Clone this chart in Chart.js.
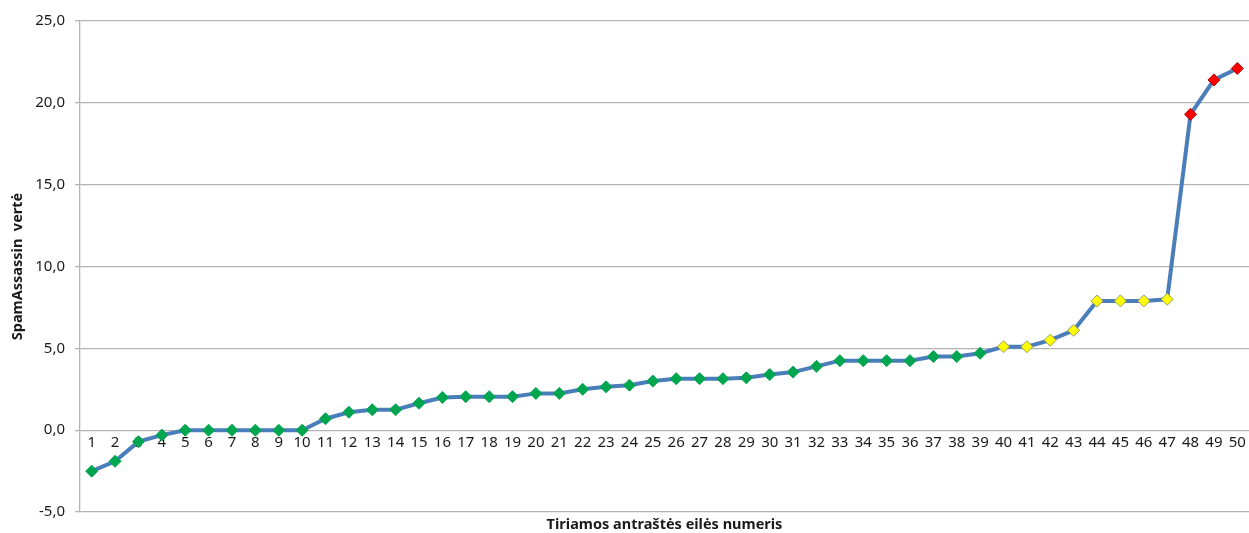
<!DOCTYPE html>
<html lang="lt">
<head>
    <meta charset="utf-8" />
    <title>SpamAssassin vertė</title>
    <style>
        html, body { margin: 0; padding: 0; background: #fff; }
        #wrap { width: 1249px; height: 533px; }
    </style>
</head>
<body>
    <div id="wrap"><canvas id="spamChart"></canvas></div>

    <script src="https://cdn.jsdelivr.net/npm/chart.js"></script>
    <script>
        // antraščių eilės numeriai
        const headerNumbers = ['1', '2', '3', '4', '5', '6', '7', '8', '9', '10',
            '11', '12', '13', '14', '15', '16', '17', '18', '19', '20',
            '21', '22', '23', '24', '25', '26', '27', '28', '29', '30',
            '31', '32', '33', '34', '35', '36', '37', '38', '39', '40',
            '41', '42', '43', '44', '45', '46', '47', '48', '49', '50'];

        // SpamAssassin įverčiai (nuskaityti nuo paveikslo)
        const spamScores = [-2.5, -1.9, -0.7, -0.3, 0.0, 0.0, 0.0, 0.0, 0.0, 0.0,
            0.7, 1.1, 1.25, 1.25, 1.65, 2.0, 2.05, 2.05, 2.05, 2.25,
            2.25, 2.5, 2.65, 2.75, 3.0, 3.15, 3.15, 3.15, 3.2, 3.4,
            3.55, 3.9, 4.25, 4.25, 4.25, 4.25, 4.5, 4.5, 4.7, 5.1,
            5.1, 5.5, 6.1, 7.9, 7.9, 7.9, 8.0, 19.3, 21.4, 22.1];

        const yTickValues = [-5, 0, 5, 10, 15, 20, 25];

        const suspectLimit = 5;   // nuo čia geltoni
        const spamLimit = 10;     // nuo čia raudoni

        const gridColor = '#b3b3b3';
        const textColor = '#1a1a1a';

        function markerFill(ctx) {
            const v = ctx.raw;
            if (v >= spamLimit) return '#ff0000';
            if (v >= suspectLimit) return '#ffff00';
            return '#00a550';
        }
        function markerBorder(ctx) {
            const v = ctx.raw;
            if (v >= spamLimit) return '#b00000';
            if (v >= suspectLimit) return '#9a9a60';
            return '#00a550';
        }

        // nenorim, kad etikečių pločiai stumdytų braižymo sritį
        function noPadding(scale) {
            scale.paddingLeft = 0;
            scale.paddingRight = 0;
            scale.paddingTop = 0;
            scale.paddingBottom = 0;
        }

        const ctx = document.getElementById('spamChart').getContext('2d');
        new Chart(ctx, {
            type: 'line',
            data: {
                labels: headerNumbers,
                datasets: [{
                    label: 'SpamAssassin vertė',
                    data: spamScores,
                    xAxisID: 'x',
                    yAxisID: 'y',
                    borderColor: '#4a7ebb',
                    borderWidth: 4,
                    tension: 0,
                    clip: false,
                    pointStyle: 'rectRot',
                    pointRadius: 6,
                    pointHoverRadius: 6,
                    pointBorderWidth: 1,
                    pointBackgroundColor: markerFill,
                    pointBorderColor: markerBorder
                }]
            },
            options: {
                responsive: true,
                maintainAspectRatio: false,
                animation: false,
                layout: {
                    autoPadding: false,
                    padding: { left: 0, right: 0, top: 21, bottom: 0 }
                },
                plugins: {
                    legend: { display: false },
                    tooltip: { enabled: false }
                },
                scales: {
                    x: {
                        type: 'category',
                        position: { y: 0 },
                        offset: true,
                        grid: { display: false, drawTicks: false },
                        border: { display: false },
                        ticks: {
                            autoSkip: false,
                            maxRotation: 0,
                            padding: 4,
                            color: textColor,
                            font: { family: 'Noto Sans', size: 15 }
                        },
                        afterFit: (scale) => {
                            scale.height = 0;
                            noPadding(scale);
                        }
                    },
                    xTitle: {
                        type: 'category',
                        position: 'bottom',
                        offset: true,
                        grid: { display: false, drawTicks: false },
                        border: { display: false },
                        ticks: { display: false },
                        title: {
                            display: true,
                            text: 'Tiriamos antraštės eilės numeris',
                            color: textColor,
                            padding: { top: 5, bottom: 0 },
                            font: { family: 'Noto Sans', size: 14.5, weight: 'bold', lineHeight: 1.1 }
                        },
                        afterFit: noPadding
                    },
                    y: {
                        min: -5,
                        max: 25,
                        afterBuildTicks: (scale) => {
                            scale.ticks = yTickValues.map(v => ({ value: v }));
                        },
                        grid: {
                            color: gridColor,
                            lineWidth: 1.3,
                            tickLength: 5
                        },
                        border: { display: true, color: gridColor, width: 1.3 },
                        ticks: {
                            padding: 10,
                            color: textColor,
                            font: { family: 'Noto Sans', size: 15 },
                            callback: (v) => Number(v).toFixed(1).replace('.', ',')
                        },
                        title: {
                            display: true,
                            text: 'SpamAssassin  vertė',
                            color: textColor,
                            padding: { top: 9, bottom: 4 },
                            font: { family: 'Noto Sans', size: 14.5, weight: 'bold' }
                        },
                        afterFit: (scale) => {
                            scale.width = 80;
                            noPadding(scale);
                        }
                    }
                }
            }
        });
    </script>
</body>
</html>
